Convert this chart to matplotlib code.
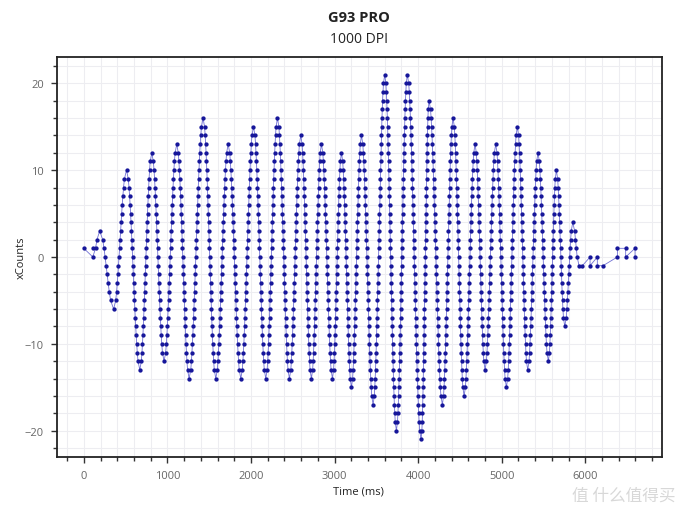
import numpy as np
import matplotlib
matplotlib.use("Agg")
import matplotlib.pyplot as plt
from matplotlib.ticker import MultipleLocator

plt.rcParams['font.family'] = ['Open Sans', 'DejaVu Sans']

# Turning points of the motion (time in ms, xCounts)
peak_times = [0, 108, 190, 357, 511, 670, 813, 960, 1112, 1260, 1427, 1579,
              1727, 1878, 2030, 2177, 2317, 2460, 2596, 2723, 2843, 2975,
              3083, 3202, 3322, 3461, 3600, 3740, 3871, 4035, 4131, 4290,
              4418, 4550, 4681, 4801, 4928, 5056, 5187, 5311, 5434, 5558,
              5654, 5754, 5850, 5925]
peak_values = [1, 0, 3, -6, 10, -13, 12, -12, 13, -14, 16, -14,
               13, -14, 15, -14, 16, -14, 14, -14, 13, -14,
               12, -15, 14, -17, 21, -20, 21, -21, 18, -17,
               16, -16, 13, -13, 13, -15, 15, -13, 12, -12,
               10, -8, 4, -1]

# Isolated extra sample near the start
extra_times = [108]
extra_values = [1]

# Sparse samples after the movement stops
tail_times = [5965, 6057, 6057, 6144, 6144, 6212, 6384, 6384, 6483, 6483, 6595, 6595]
tail_values = [-1, 0, -1, 0, -1, -1, 0, 1, 1, 0, 1, 0]

# samples at each integer count along every edge between turning points
ts, vs = [], []
for i in range(len(peak_times) - 1):
    t0, t1 = peak_times[i], peak_times[i + 1]
    v0, v1 = peak_values[i], peak_values[i + 1]
    step = 1 if v1 > v0 else -1
    for v in range(v0, v1, step):
        f = np.arccos(1 - 2 * (v - v0) / (v1 - v0)) / np.pi
        ts.append(t0 + f * (t1 - t0))
        vs.append(v)
ts.append(peak_times[-1]); vs.append(peak_values[-1])
ts += tail_times
vs += tail_values

fig = plt.figure(figsize=(6.8, 5.1), dpi=100)
ax = fig.add_axes([57.3 / 680, 1 - 458.3 / 510, (662.2 - 57.3) / 680, (458.3 - 57.7) / 510])

ax.plot(ts, vs, color='#7070d4', lw=0.6, zorder=2)
ax.plot(ts, vs, 'o', color='#16169a', ms=3.1, mew=0, zorder=3)
ax.plot(extra_times, extra_values, 'o', color='#16169a', ms=3.1, mew=0, zorder=3)

ax.set_xlim(-317, 6920)
ax.set_ylim(-23.07, 23.07)
ax.xaxis.set_major_locator(MultipleLocator(1000))
ax.xaxis.set_minor_locator(MultipleLocator(200))
ax.yaxis.set_major_locator(MultipleLocator(10))
ax.yaxis.set_minor_locator(MultipleLocator(2))
ax.grid(which='both', color='#ededf1', lw=0.8, zorder=0)
ax.set_axisbelow(True)
for s in ax.spines.values():
    s.set_color('#222222')
    s.set_linewidth(1.3)
ax.tick_params(which='major', direction='out', length=4.5, width=1, color='#333333',
               labelsize=8, labelcolor='#666666', pad=5)
ax.tick_params(which='minor', direction='out', length=2.6, width=1, color='#333333')

ax.set_xlabel('Time (ms)', fontsize=8, color='#222222')
ax.set_ylabel('xCounts', fontsize=8, color='#222222')
ax.xaxis.label.set_va('center')
ax.yaxis.label.set_va('center')
ax.xaxis.set_label_coords((358 - 57.3) / 604.9, (458.3 - 492) / 400.6)
ax.yaxis.set_label_coords((21 - 57.3) / 604.9, 0.5)

fig.text(0.5285, 1 - 18 / 510, 'G93 PRO', ha='center', va='center',
         fontsize=10.5, fontweight='bold', color='#222222')
fig.text(0.5285, 1 - 40 / 510, '1000 DPI', ha='center', va='center',
         fontsize=10, color='#222222')

fig.text(0.993, 1 - 496 / 510, '值 什么值得买', ha='right', va='center', fontsize=12,
         color='#d8d8d8', family=['Noto Sans CJK SC', 'DejaVu Sans'])

fig.savefig('out.png', dpi=100)
